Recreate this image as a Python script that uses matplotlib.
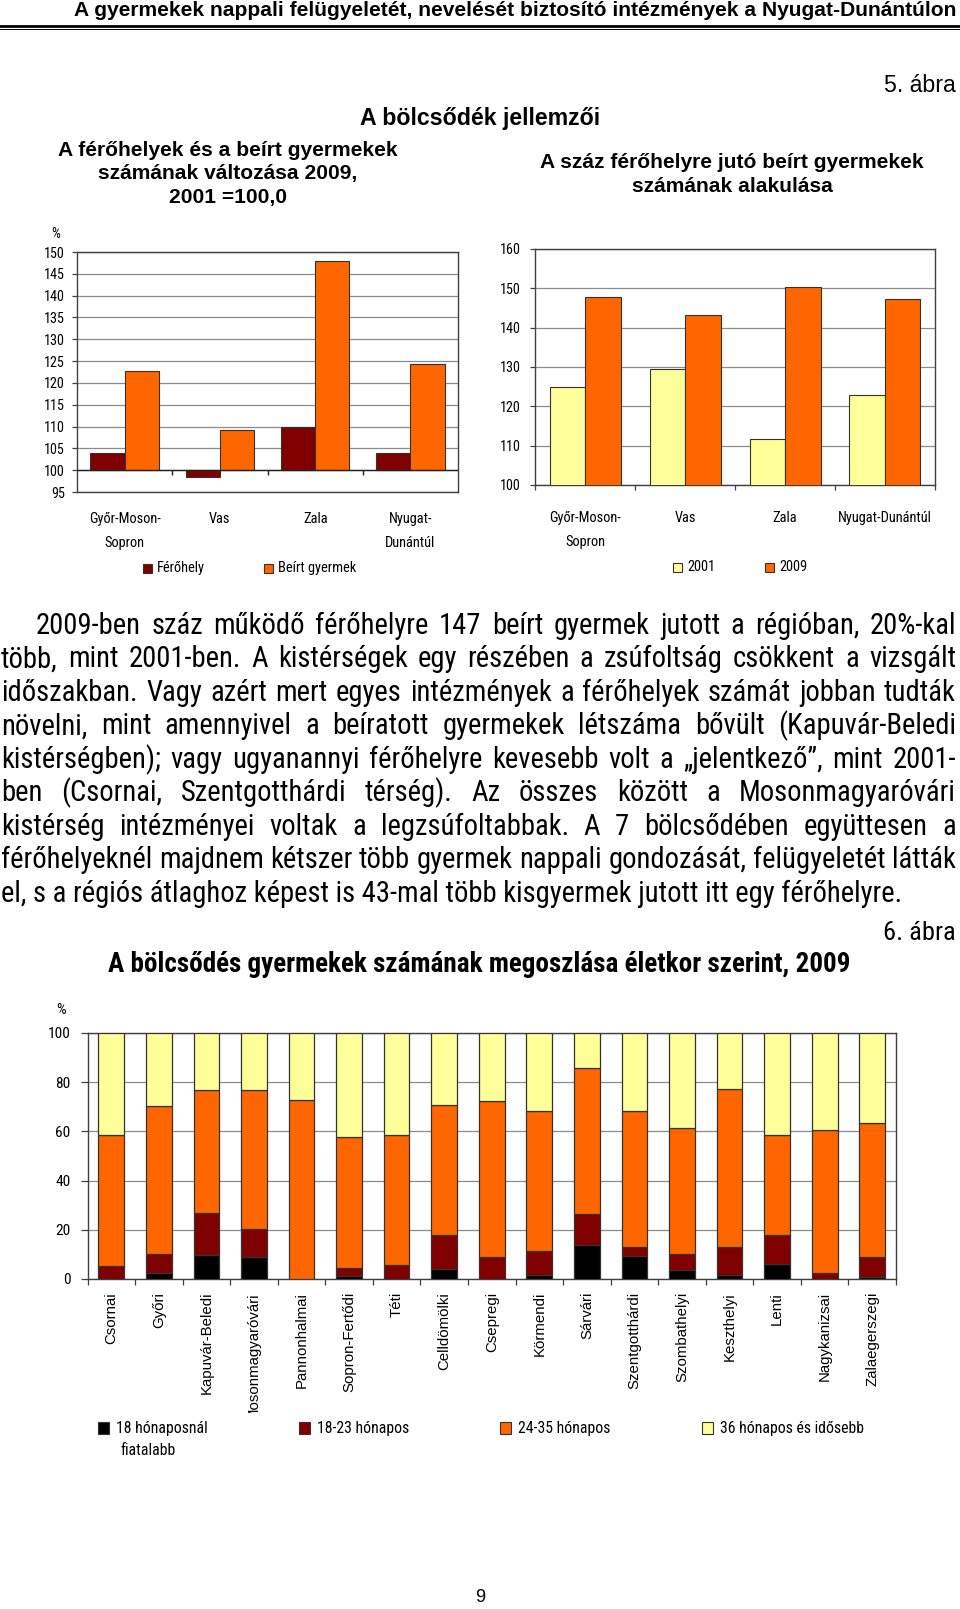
import matplotlib
matplotlib.use('Agg')
import matplotlib.pyplot as plt
from matplotlib import font_manager
from matplotlib.transforms import Bbox, blended_transform_factory
from matplotlib.patches import Rectangle
from matplotlib.lines import Line2D
import numpy as np

W, H = 960, 1609

# ---------------- data ----------------
regions_a = ['Győr-Moson-\nSopron', 'Vas', 'Zala', 'Nyugat-\nDunántúl']
ferohely = [104.0, 98.5, 109.8, 104.0]
beirt_gyermek = [122.8, 109.2, 148.0, 124.4]

regions_b = ['Győr-Moson-\nSopron', 'Vas', 'Zala', 'Nyugat-Dunántúl']
per100_2001 = [124.8, 129.5, 111.6, 122.9]
per100_2009 = [147.7, 143.3, 150.3, 147.3]

kistersegek = ['Csornai', 'Győri', 'Kapuvár-Beledi', 'Mosonmagyaróvári', 'Pannonhalmai',
               'Sopron-Fertődi', 'Téti', 'Celldömölki', 'Csepregi', 'Körmendi', 'Sárvári',
               'Szentgotthárdi', 'Szombathelyi', 'Keszthelyi', 'Lenti', 'Nagykanizsai',
               'Zalaegerszegi']
age_under18 = [0.0, 2.4, 9.9, 8.8, 0.0, 1.1, 0.0, 4.2, 0.0, 1.8, 14.0, 9.5, 3.8, 1.8, 6.2, 0.0, 0.8]
age_18_23 = [5.1, 7.8, 16.9, 11.5, 0.0, 3.4, 5.7, 13.6, 8.8, 9.7, 12.4, 3.4, 6.4, 11.1, 11.6, 2.4, 8.1]
age_24_35 = [53.6, 60.0, 49.9, 56.4, 72.9, 53.1, 53.0, 53.1, 63.4, 56.9, 59.4, 55.5, 51.2, 64.5, 40.9, 58.3, 54.5]
age_36plus = [41.3, 29.8, 23.3, 23.3, 27.1, 42.4, 41.3, 29.1, 27.8, 31.6, 14.2, 31.6, 38.6, 22.6, 41.3, 39.3, 36.6]
age_labels = ['18 hónaposnál\nfiatalabb', '18-23 hónapos', '24-35 hónapos', '36 hónapos és idősebb']

yticks_a = list(range(95, 151, 5))
yticks_b = list(range(100, 161, 10))
yticks_c = list(range(0, 101, 20))

paragraph = [
    "2009-ben száz működő férőhelyre 147 beírt gyermek jutott a régióban, 20%-kal",
    "több, mint 2001-ben. A kistérségek egy részében a zsúfoltság csökkent a vizsgált",
    "időszakban. Vagy azért mert egyes intézmények a férőhelyek számát jobban tudták",
    "növelni, mint amennyivel a beíratott gyermekek létszáma bővült (Kapuvár-Beledi",
    "kistérségben); vagy ugyanannyi férőhelyre kevesebb volt a „jelentkező”, mint 2001-",
    "ben (Csornai, Szentgotthárdi térség). Az összes között a Mosonmagyaróvári",
    "kistérség intézményei voltak a legzsúfoltabbak. A 7 bölcsődében együttesen a",
    "férőhelyeknél majdnem kétszer több gyermek nappali gondozását, felügyeletét látták",
    "el, s a régiós átlaghoz képest is 43-mal több kisgyermek jutott itt egy férőhelyre.",
]

# ---------------- fonts ----------------
fonts = font_manager.fontManager.ttflist
names = {f.name for f in fonts}
SANS_NAME = 'Liberation Sans' if 'Liberation Sans' in names else 'DejaVu Sans'
SANS = [SANS_NAME, 'DejaVu Sans']
narrow_name = None
for cand in ['Liberation Sans Narrow', 'Roboto Condensed', 'Archivo Narrow', 'PT Sans Narrow']:
    if cand in names:
        narrow_name = cand
        break
NARROW = [narrow_name, SANS_NAME, 'DejaVu Sans'] if narrow_name else SANS


def _w(wt):
    try:
        return int(wt)
    except (TypeError, ValueError):
        return 700 if str(wt).lower() in ('bold', 'heavy', 'black') else 400


has_narrow_bold = narrow_name is not None and any(
    f.name == narrow_name and _w(f.weight) >= 600 for f in fonts)
NARROW_BOLD = NARROW if has_narrow_bold else SANS

C_DARKRED = '#800000'
C_ORANGE = '#FF6600'
C_YELLOW = '#FFFF99'
C_BLACK = '#000000'
C_EDGE = '#333333'
C_GRID = '#8c8c8c'
C_SPINE = '#404040'

fig = plt.figure(figsize=(W / 100, H / 100), dpi=100)
fig.patch.set_facecolor('white')
R = fig.canvas.get_renderer()


def fx(x):
    return x / W


def fy(y):
    return 1 - y / H


def txt(x, y, s, **kw):
    return fig.text(fx(x), fy(y), s, **kw)


def width_of(s, size, family, weight='normal'):
    t = fig.text(0, 0, s, fontsize=size, family=family, weight=weight)
    w = t.get_window_extent(R).width
    t.remove()
    return w


def fit_size(s, target, family, weight='normal'):
    return 10.0 * target / width_of(s, 10.0, family, weight)


# size factor so that the narrow family matches Arial Narrow widths (~0.82 of Arial)
_sample = "Győr-Moson- Sopron 0123456789 hónapos"
NS = 0.82 * width_of(_sample, 10, SANS) / width_of(_sample, 10, NARROW)


def add_axes_px(left, top, right, bottom):
    return fig.add_axes([fx(left), fy(bottom), (right - left) / W, (bottom - top) / H])


def legend_box(x, y, color, size=9):
    r = Rectangle((fx(x - size / 2), fy(y + size / 2)), size / W, size / H,
                  transform=fig.transFigure, facecolor=color, edgecolor=C_EDGE, lw=0.8)
    fig.add_artist(r)


def style_axes(ax, pad=5.3):
    for sp in ax.spines.values():
        sp.set_color(C_SPINE)
        sp.set_linewidth(1.0)
    ax.yaxis.grid(True, color=C_GRID, lw=0.9)
    ax.set_axisbelow(True)
    ax.tick_params(axis='y', direction='out', length=3.6, width=0.9, color=C_SPINE, pad=pad)


# ---------------- header ----------------
hdr = "A gyermekek nappali felügyeletét, nevelését biztosító intézmények a Nyugat-Dunántúlon"
txt(956, 11, hdr, ha='right', va='center', family=SANS, weight='bold',
    fontsize=fit_size(hdr, 882, SANS, 'bold'))
fig.add_artist(Line2D([0, 1], [fy(25.5)] * 2, lw=2.0, color='black', transform=fig.transFigure))
fig.add_artist(Line2D([0, 1], [fy(28.8)] * 2, lw=0.7, color='black', transform=fig.transFigure))

txt(956, 85, "5. ábra", ha='right', va='center', family=SANS,
    fontsize=fit_size("5. ábra", 72, SANS))
s = "A bölcsődék jellemzői"
txt(480, 118, s, ha='center', va='center', family=SANS, weight='bold',
    fontsize=fit_size(s, 241, SANS, 'bold'))

tl = ["A férőhelyek és a beírt gyermekek", "számának változása 2009,", "2001 =100,0"]
fs_tl = fit_size(tl[0], 340, SANS, 'bold')
for i, line in enumerate(tl):
    txt(228, 150 + 24 * i, line, ha='center', va='center', family=SANS, weight='bold', fontsize=fs_tl)

tr = ["A száz férőhelyre jutó beírt gyermekek", "számának alakulása"]
fs_tr = fit_size(tr[0], 384, SANS, 'bold')
for i, line in enumerate(tr):
    txt(732, 162 + 24.7 * i, line, ha='center', va='center', family=SANS, weight='bold', fontsize=fs_tr)

FS_TICK = 10.8 * NS
FS_CAT = 11.0 * NS

# ---------------- left chart ----------------
axL = add_axes_px(77, 252, 458, 492)
x = np.arange(len(regions_a))
w = 0.36
axL.bar(x - w / 2, np.array(ferohely) - 100, w, bottom=100, color=C_DARKRED,
        edgecolor=C_EDGE, lw=0.8, zorder=3)
axL.bar(x + w / 2, np.array(beirt_gyermek) - 100, w, bottom=100, color=C_ORANGE,
        edgecolor=C_EDGE, lw=0.8, zorder=3)
axL.set_xlim(-0.5, len(x) - 0.5)
axL.set_ylim(95, 150)
axL.set_yticks(yticks_a)
axL.set_yticklabels([str(v) for v in yticks_a], family=NARROW, fontsize=FS_TICK)
axL.set_xticks([])
style_axes(axL, pad=5.0)
axL.axhline(100, color='#222222', lw=1.0, zorder=4)
axL.vlines(x[:-1] + 0.5, 100 - 55 * 5 / 240, 100, color='#222222', lw=1.0, zorder=4)
txt(56, 234, '%', ha='center', va='center', family=NARROW, fontsize=FS_TICK)

trL = blended_transform_factory(axL.transData, fig.transFigure)
for i, lab in enumerate(regions_a):
    for k, part in enumerate(lab.split('\n')):
        axL.text(i, fy(519 + 24 * k), part, transform=trL, ha='center', va='center',
                 family=NARROW, fontsize=FS_CAT)

legend_box(147, 568, C_DARKRED)
txt(157, 568, 'Férőhely', ha='left', va='center', family=NARROW, fontsize=FS_CAT)
legend_box(268, 568, C_ORANGE)
txt(278, 568, 'Beírt gyermek', ha='left', va='center', family=NARROW, fontsize=FS_CAT)

# ---------------- right chart ----------------
axR = add_axes_px(535, 249, 935, 485)
x = np.arange(len(regions_b))
w = 0.355
axR.bar(x - w / 2, per100_2001, w, color=C_YELLOW, edgecolor=C_EDGE, lw=0.8, zorder=3)
axR.bar(x + w / 2, per100_2009, w, color=C_ORANGE, edgecolor=C_EDGE, lw=0.8, zorder=3)
axR.set_xlim(-0.5, len(x) - 0.5)
axR.set_ylim(100, 160)
axR.set_yticks(yticks_b)
axR.set_yticklabels([str(v) for v in yticks_b], family=NARROW, fontsize=FS_TICK)
axR.set_xticks(np.arange(-0.5, len(x), 1.0))
axR.set_xticklabels([])
style_axes(axR, pad=6.5)
axR.tick_params(axis='x', direction='out', length=3.6, width=0.9, color=C_SPINE)

trR = blended_transform_factory(axR.transData, fig.transFigure)
for i, lab in enumerate(regions_b):
    for k, part in enumerate(lab.split('\n')):
        axR.text(i, fy(518 + 24 * k), part, transform=trR, ha='center', va='center',
                 family=NARROW, fontsize=FS_CAT)

legend_box(677, 567, C_YELLOW)
txt(687, 567, '2001', ha='left', va='center', family=NARROW, fontsize=FS_CAT)
legend_box(769, 567, C_ORANGE)
txt(779, 567, '2009', ha='left', va='center', family=NARROW, fontsize=FS_CAT)

# ---------------- paragraph (justified) ----------------
left_x, right_x, indent = 1.0, 956.0, 35.0
ratios = []
for i, line in enumerate(paragraph[:-1]):
    start = left_x + (indent if i == 0 else 0)
    ratios.append((right_x - start) / width_of(line, 10.0, NARROW))
fs_par = 10.0 * min(ratios) * 0.995
em_px = fs_par * 100 / 72
for i, line in enumerate(paragraph):
    yc = 623.6 + 33.46 * i
    yb = yc + 0.36 * em_px
    start = left_x + (indent if i == 0 else 0)
    if i == len(paragraph) - 1:
        txt(start, yb, line, ha='left', va='baseline', family=NARROW, fontsize=fs_par)
        continue
    words = line.split(' ')
    ws = [width_of(wd, fs_par, NARROW) for wd in words]
    gap = (right_x - start - sum(ws)) / (len(words) - 1)
    xx = start
    for wd, ww in zip(words, ws):
        txt(xx, yb, wd, ha='left', va='baseline', family=NARROW, fontsize=fs_par)
        xx += ww + gap

# ---------------- bottom chart ----------------
txt(956, 933, "6. ábra", ha='right', va='center', family=NARROW,
    fontsize=fit_size("6. ábra", 72, NARROW))
s = "A bölcsődés gyermekek számának megoszlása életkor szerint, 2009"
txt(479.5, 965, s, ha='center', va='center', family=NARROW_BOLD, weight='bold',
    fontsize=fit_size(s, 745, NARROW_BOLD, 'bold'))

axC = add_axes_px(87.5, 1033, 896, 1279)
n = len(kistersegek)
x = np.arange(n)
w = 0.54
series = [age_under18, age_18_23, age_24_35, age_36plus]
colors = [C_BLACK, C_DARKRED, C_ORANGE, C_YELLOW]
bottom = np.zeros(n)
for vals, col in zip(series, colors):
    vals = np.array(vals)
    axC.bar(x, vals, w, bottom=bottom, color=col, edgecolor=C_EDGE, lw=0.9, zorder=3)
    bottom = bottom + vals
axC.set_xlim(-0.5, n - 0.5)
axC.set_ylim(0, 100)
axC.set_yticks(yticks_c)
axC.set_yticklabels([str(v) for v in yticks_c], family=NARROW, fontsize=11.8 * NS)
axC.set_xticks(np.arange(-0.5, n, 1.0))
axC.set_xticklabels([])
style_axes(axC)
axC.tick_params(axis='y', length=5.0, pad=7.2)
axC.tick_params(axis='x', direction='out', length=4.3, width=0.9, color=C_SPINE)
txt(61.5, 1010, '%', ha='center', va='center', family=NARROW, fontsize=11.8 * NS)

trC = blended_transform_factory(axC.transData, fig.transFigure)
clip = Bbox([[0, H - 1413], [W, H]])
for i, lab in enumerate(kistersegek):
    t = axC.text(i, fy(1292), lab, transform=trC, rotation=90, ha='center', va='top',
                 family=SANS, fontsize=10.8, clip_on=False)
    t.set_clip_box(clip)
    t.set_clip_on(True)

leg_x = [103.6, 304.6, 505.6, 707.7]
for lx, col, lab in zip(leg_x, colors, age_labels):
    legend_box(lx, 1428, col, size=11.5)
    parts = lab.split('\n')
    for k, part in enumerate(parts):
        txt(lx + 12.5 + 4 * k, 1428 + 22.5 * k, part, ha='left', va='center', family=NARROW,
            fontsize=12 * NS)

txt(480, 1598, '9', ha='center', va='center', family=SANS, fontsize=13)

fig.savefig('out.png', dpi=100, facecolor='white')
